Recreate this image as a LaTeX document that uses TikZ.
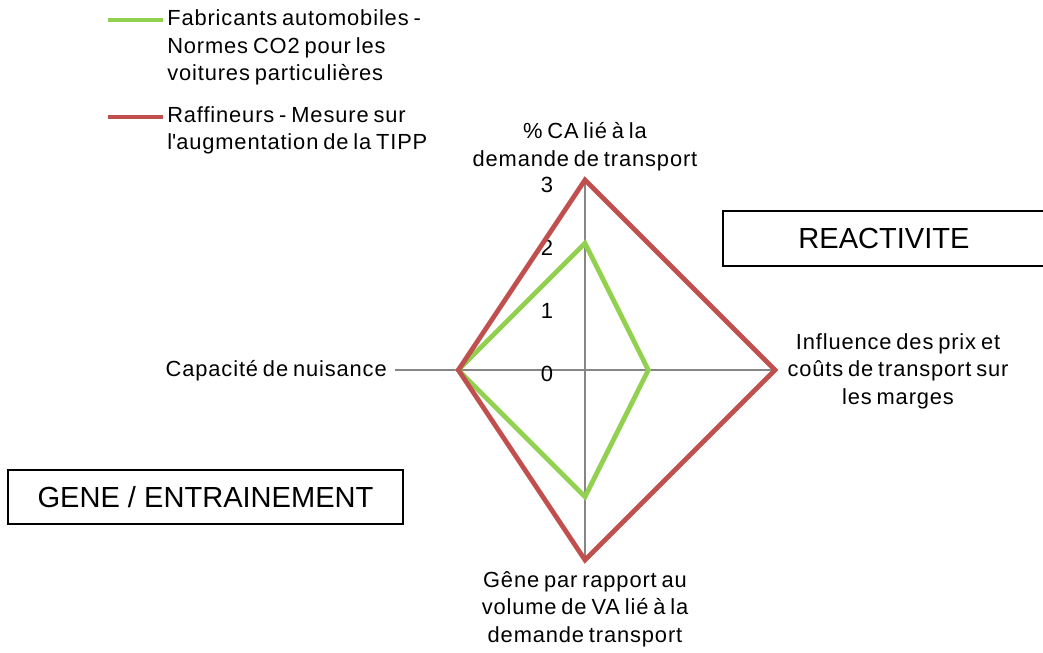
\documentclass[tikz,border=0pt]{standalone}
\usepackage{fontspec}
\setmainfont{Liberation Sans}
\newfontfamily\lsp{Liberation Sans}[LetterSpace=4, WordSpace=0.7]
\usetikzlibrary{positioning}
\definecolor{vert}{RGB}{146,208,80}
\definecolor{rouge}{RGB}{192,80,77}
\definecolor{axe}{RGB}{134,134,134}

\begin{document}
\begin{tikzpicture}[x=0.75pt, y=-0.75pt,
  serie/.style={line width=3.6pt},
  axis/.style={draw=axe, line width=1.1pt},
  lab/.style={font=\lsp\fontsize{16.4}{20.6}\selectfont, align=center, inner sep=0pt},
  tick/.style={font=\fontsize{16.5}{18}\selectfont, inner sep=0pt},
  cadre/.style={draw, line width=1.1pt, font=\fontsize{21.8}{24}\selectfont, inner sep=0pt}]
\useasboundingbox (0,0) rectangle (1043,653);

% axes
\coordinate (c) at (585,370);
\coordinate (t) at (585,180);
\coordinate (r) at (775,370);
\coordinate (b) at (585,560);
\coordinate (l) at (395,370);
\draw[axis] (c) -- (t);
\draw[axis] (c) -- (r);
\draw[axis] (c) -- (b);
\draw[axis] (c) -- (l);

% tick labels
\node[tick] (t0) at (547,374) {0};
\node[tick] (t1) at (547,311) {1};
\node[tick] (t2) at (547,248) {2};
\node[tick] (t3) at (547,185) {3};

% series
\coordinate (g1) at (585,243.3);
\coordinate (g2) at (648.3,370);
\coordinate (g3) at (585,496.7);
\coordinate (g4) at (458.3,370);
\draw[serie, vert] (g1) -- (g2) -- (g3) -- (g4) -- cycle;
\coordinate (r1) at (585,180);
\coordinate (r2) at (775,370);
\coordinate (r3) at (585,560);
\coordinate (r4) at (458.3,370);
\draw[serie, rouge] (r1) -- (r2) -- (r3) -- (r4) -- cycle;

% axis labels
\node[lab] (ca) at (585,146.5) {\% CA lié à la\\demande de transport};
\node[lab] (infl) at (898,371) {Influence des prix et\\coûts de transport sur\\les marges};
\node[lab, anchor=east] (nuis) at (387,371) {Capacité de nuisance};
\node[lab] (gene) at (585,609) {Gêne par rapport au\\volume de VA lié à la\\demande transport};

% boxes
\node[cadre, minimum width=241.5pt, minimum height=41pt] (react) at (884,238.5) {REACTIVITE};
\node[cadre, minimum width=296pt, minimum height=40.5pt] (entr) at (205.5,497) {GENE / ENTRAINEMENT};

% legend
\coordinate (lg1) at (108,20);
\coordinate (lg2) at (163,20);
\coordinate (lr1) at (108,117);
\coordinate (lr2) at (163,117);
\draw[vert, line width=3.6pt] (lg1) -- (lg2);
\draw[rouge, line width=3.6pt] (lr1) -- (lr2);
\node[lab, align=left, anchor=west] (leg1) at (167,47.5) {Fabricants automobiles -\\Normes CO2 pour les\\voitures particulières};
\node[lab, align=left, anchor=west] (leg2) at (167,130.5) {Raffineurs - Mesure sur\\l\textquotesingle augmentation de la TIPP};
\end{tikzpicture}
\end{document}
